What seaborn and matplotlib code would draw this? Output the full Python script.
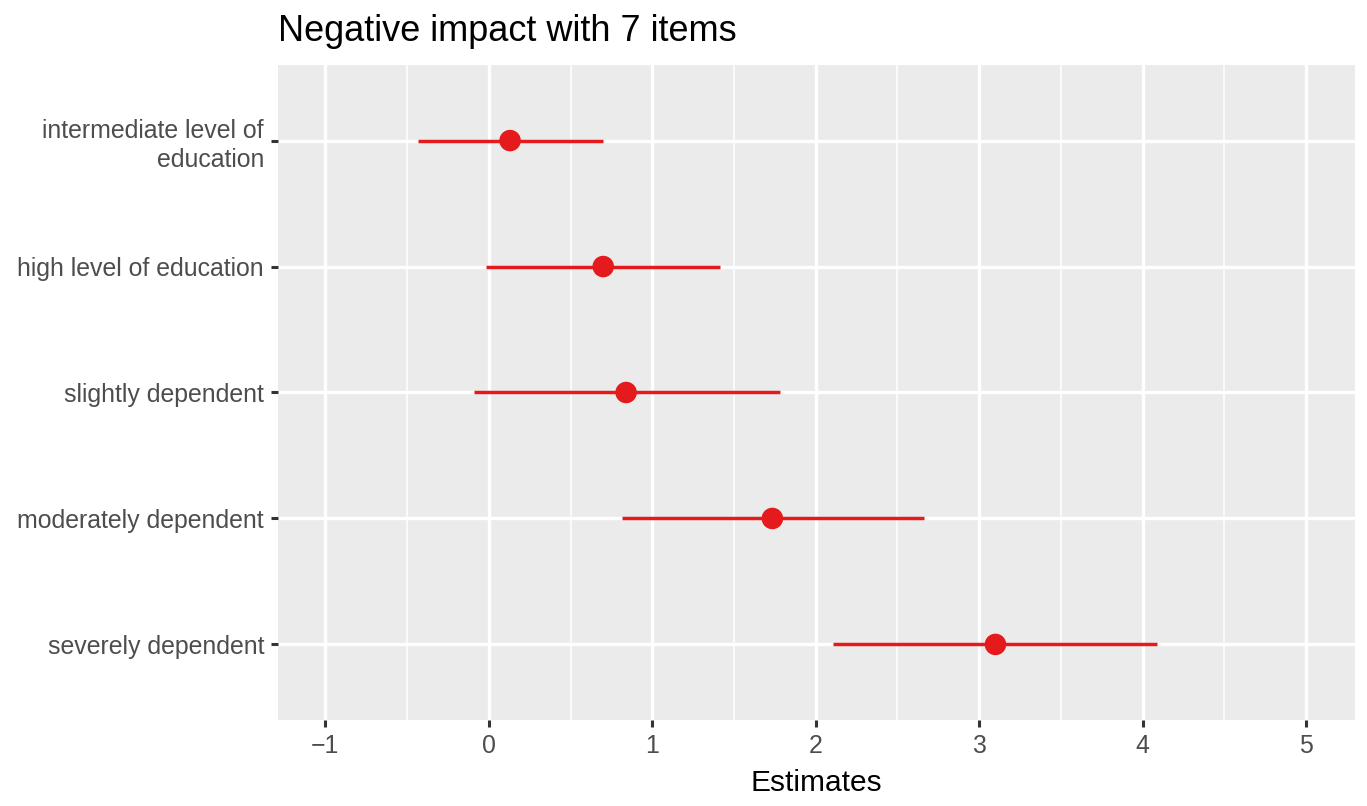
import matplotlib
matplotlib.use("Agg")
import matplotlib.pyplot as plt
import seaborn as sns
import pandas as pd
import numpy as np

terms = ["intermediate level of\neducation", "high level of education",
         "slightly dependent", "moderately dependent", "severely dependent"]
estimates = [0.13, 0.70, 0.84, 1.735, 3.10]
conf_low = [-0.435, -0.02, -0.09, 0.815, 2.105]
conf_high = [0.70, 1.415, 1.78, 2.66, 4.09]
x_ticks = [-1, 0, 1, 2, 3, 4, 5]

df = pd.DataFrame({"term": terms, "estimate": estimates,
                   "low": conf_low, "high": conf_high})

sns.set_theme(style="darkgrid")
plt.rcParams['font.family'] = ['Liberation Sans', 'DejaVu Sans']

red = "#E41A1C"
fig = plt.figure(figsize=(13.67, 8.06), dpi=100)
ax = fig.add_axes([278/1367, 1-720/806, (1355-278)/1367, (720-65)/806])
ax.set_facecolor("#EBEBEB")

ax.hlines(df["term"], df["low"], df["high"], color=red, linewidth=2.5, zorder=3)
sns.scatterplot(data=df, x="estimate", y="term", color=red, s=240,
                edgecolor="none", ax=ax, zorder=4)

ax.set_xlim(-1.29, 5.30)
ax.set_ylim(4.6, -0.6)
ax.set_xticks(x_ticks)
ax.set_xticks(np.arange(-0.5, 5.0, 1.0), minor=True)
ax.grid(which="major", color="white", linewidth=2.4)
ax.grid(which="minor", axis="x", color="white", linewidth=1.1)
ax.set_axisbelow(True)
for s in ax.spines.values():
    s.set_visible(False)

ax.tick_params(axis="both", which="major", length=5, width=2.2, color="#333333",
               labelsize=17.9, labelcolor="#4D4D4D", pad=5, bottom=True, left=True)
ax.tick_params(axis="x", which="minor", length=0)
for lbl in ax.get_yticklabels():
    lbl.set_linespacing(1.25)
ax.set_xlabel("Estimates", fontsize=21.5, color="black", labelpad=8)
ax.set_ylabel("")
ax.set_title("Negative impact with 7 items", loc="left", fontsize=26,
             color="black", pad=17)

fig.savefig("out.png", dpi=100)
